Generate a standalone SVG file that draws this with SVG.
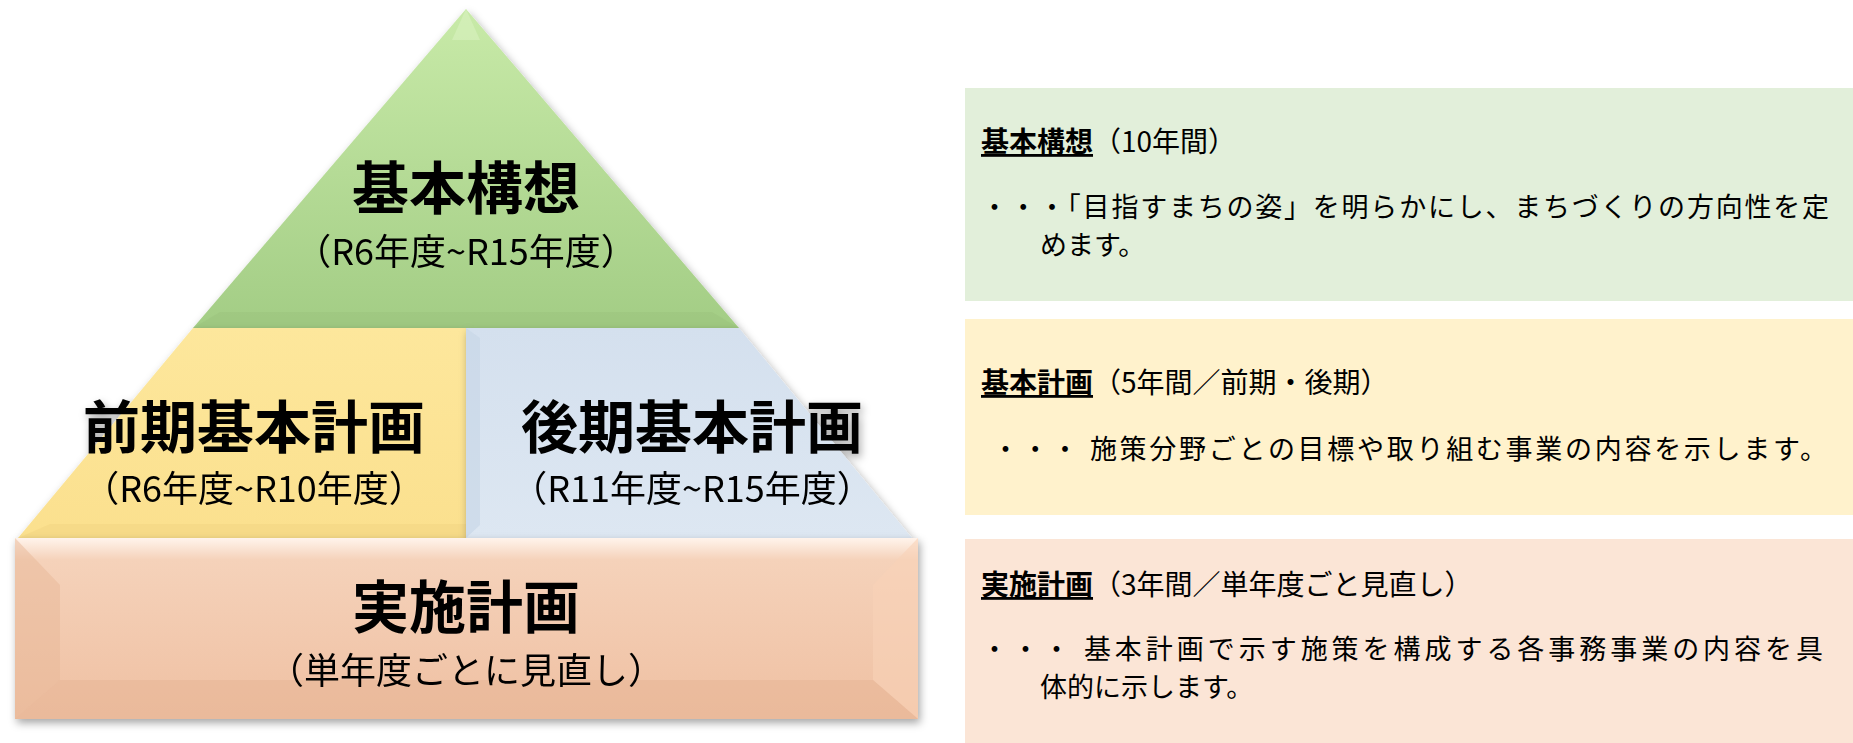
<svg xmlns="http://www.w3.org/2000/svg" width="1853" height="743" viewBox="0 0 1853 743">
<style>
text{font-family:"Noto Sans CJK JP","Noto Sans",sans-serif;fill:#000}
.big{font-size:57px;font-weight:bold;text-anchor:middle}
.sub{font-size:36px;text-anchor:middle}
.hd{font-size:28px}
.hb{font-weight:bold;text-decoration:underline}
.bd{font-size:27px}
</style>
<defs>
<linearGradient id="gG" x1="0" y1="0" x2="0" y2="1"><stop offset="0" stop-color="#c8eaa8"/><stop offset="1" stop-color="#a3cd85"/></linearGradient>
<linearGradient id="gY" x1="0" y1="0" x2="0" y2="1"><stop offset="0" stop-color="#fde79c"/><stop offset="1" stop-color="#fbe08e"/></linearGradient>
<linearGradient id="gB" x1="0" y1="0" x2="0" y2="1"><stop offset="0" stop-color="#d4e0ee"/><stop offset="1" stop-color="#dde7f2"/></linearGradient>
<linearGradient id="gP" x1="0" y1="0" x2="0" y2="1"><stop offset="0" stop-color="#fff4ec"/><stop offset="0.12" stop-color="#f5d2ba"/><stop offset="1" stop-color="#efc0a2"/></linearGradient>
<filter id="sh" x="-5%" y="-5%" width="110%" height="115%"><feDropShadow dx="2" dy="4" stdDeviation="4" flood-color="#000" flood-opacity="0.35"/></filter>
</defs>
<g id="panels">
<rect x="965" y="88" width="888" height="213" fill="#e2efda"/>
<rect x="965" y="319" width="888" height="196" fill="#fff2cc"/>
<rect x="965" y="539" width="888" height="204" fill="#fbe5d6"/>
</g>
<g id="node-kihonkoso" filter="url(#sh)">
<polygon points="466,9 739,328 193,328" fill="url(#gG)"/>
<polygon points="466,9 480,40 452,40" fill="#d8f2bf" opacity="0.6"/>
<polygon points="193,328 739,328 712,312 220,312" fill="#9cc47f" opacity="0.6"/>
<text class="big" x="466" y="209">基本構想</text>
<text class="sub" x="466" y="265">（R6年度~R15年度）</text>
</g>
<g id="node-zenki" filter="url(#sh)">
<polygon points="193,328 466,328 466,538 18,538" fill="url(#gY)"/>
<polygon points="18,538 466,538 466,524 50,524" fill="#f3d584" opacity="0.6"/>
<text class="big" x="254" y="448">前期基本計画</text>
<text class="sub" x="254" y="502">（R6年度~R10年度）</text>
</g>
<g id="node-koki" filter="url(#sh)">
<polygon points="466,328 739,328 912,538 466,538" fill="url(#gB)"/>
<polygon points="466,328 480,338 480,525 466,538" fill="#c7d5e6" opacity="0.6"/>
<text class="big" x="692" y="448">後期基本計画</text>
<text class="sub" x="692" y="502">（R11年度~R15年度）</text>
</g>
<g id="node-jisshi" filter="url(#sh)">
<rect x="15" y="538" width="903" height="181" fill="url(#gP)"/>
<polygon points="15,538 60,585 60,680 15,719" fill="#e8b898" opacity="0.5"/>
<polygon points="918,538 873,585 873,680 918,719" fill="#f8d2b8" opacity="0.6"/>
<polygon points="15,719 60,680 873,680 918,719" fill="#e6b494" opacity="0.5"/>
<text class="big" x="466" y="628">実施計画</text>
<text class="sub" x="466" y="684">（単年度ごとに見直し）</text>
</g>
<g id="text-panels">
<text class="hd" x="981" y="152"><tspan class="hb">基本構想</tspan>（10年間）</text>
<text class="bd" x="981" y="217" textLength="848">・・・「目指すまちの姿」を明らかにし、まちづくりの方向性を定</text>
<text class="bd" x="1040" y="255">めます。</text>
<text class="hd" x="981" y="393"><tspan class="hb">基本計画</tspan>（5年間／前期・後期）</text>
<text class="bd" x="992" y="459" textLength="835">・・・ 施策分野ごとの目標や取り組む事業の内容を示します。</text>
<text class="hd" x="981" y="595"><tspan class="hb">実施計画</tspan>（3年間／単年度ごと見直し）</text>
<text class="bd" x="981" y="659" textLength="842">・・・ 基本計画で示す施策を構成する各事務事業の内容を具</text>
<text class="bd" x="1040" y="697">体的に示します。</text>
</g>
</svg>
